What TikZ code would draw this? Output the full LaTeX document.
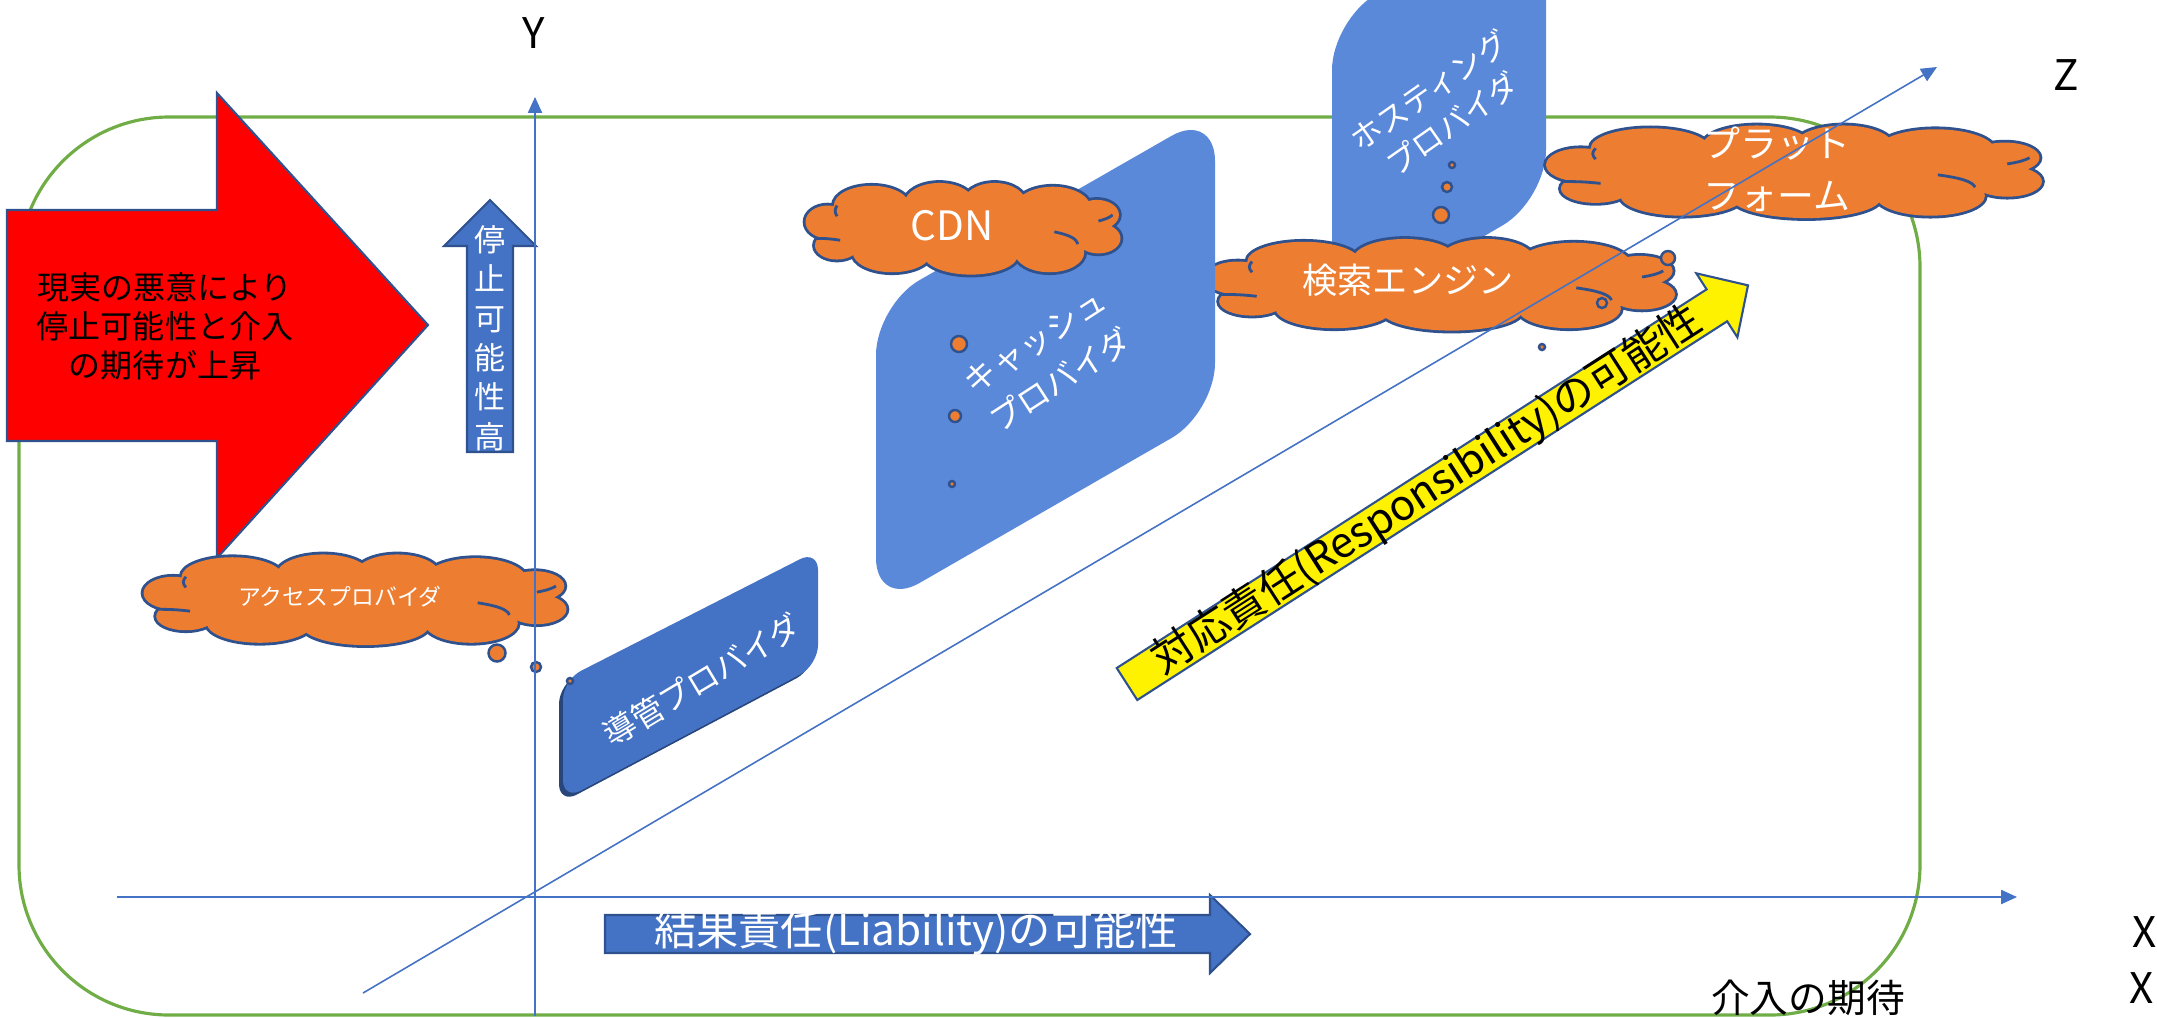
\documentclass[tikz,border=0pt]{standalone}
\usepackage{fontspec}
\setmainfont{Noto Sans CJK JP}
\usetikzlibrary{arrows.meta}
\definecolor{axisblue}{HTML}{4472C4}
\definecolor{edgeblue}{HTML}{2F528F}
\definecolor{panelblue}{HTML}{5B89DA}
\definecolor{cloudorange}{HTML}{ED7D31}
\definecolor{framegreen}{HTML}{70AD47}
% cloud outline as a union of ellipses, in a box from -1 to 1
\newcommand\cloudparts{(0,0) ellipse (0.78 and 0.72)
    (-0.58,-0.5) ellipse (0.24 and 0.42) (-0.15,-0.55) ellipse (0.22 and 0.43)
    (0.2,-0.55) ellipse (0.2 and 0.43) (0.57,-0.45) ellipse (0.24 and 0.45)
    (0.55,0.5) ellipse (0.22 and 0.42) (0.05,0.55) ellipse (0.3 and 0.42)
    (-0.45,0.5) ellipse (0.25 and 0.42)
    (-0.86,-0.15) ellipse (0.14 and 0.35) (-0.8,0.35) ellipse (0.14 and 0.3)
    (0.85,-0.3) ellipse (0.14 and 0.32) (0.86,0.2) ellipse (0.14 and 0.32)}
\tikzset{
    axis/.style={axisblue, line width=0.45pt, -{Triangle[length=4.5pt,width=4pt]}},
    puff/.pic={
        \path[draw=edgeblue, line width=1.6pt] \cloudparts;
        \path[fill=cloudorange] \cloudparts;
        \draw[edgeblue, line width=0.8pt] (-0.93,0.2) to[bend left=15] (-0.78,0.24);
        \draw[edgeblue, line width=0.8pt] (0.58,0.06) to[bend left=25] (0.73,0.32);
        \draw[edgeblue, line width=0.8pt] (0.86,-0.17) to[bend right=15] (0.95,-0.3);
        \draw[edgeblue, line width=0.8pt] (-0.8,-0.5) to[bend right=10] (-0.8,-0.27);
    },
    bubble/.style={draw=edgeblue, line width=0.7pt, fill=cloudorange},
    panel/.style={fill=panelblue, rounded corners=0.5cm},
    blockarrow/.style={draw=edgeblue, line width=0.6pt},
    whitetext/.style={text=white, align=center},
}
\begin{document}
\begin{tikzpicture}[x=0.01cm, y=-0.01cm]
    \useasboundingbox (0,0) rectangle (2157,1017);
    \draw[framegreen, line width=0.9pt, rounded corners=1.5cm] (19,117) rectangle (1920,1015);
    % red arrow
    \draw[blockarrow, fill=red] (7,210) -- (217,210) -- (217,93) -- (428,325) -- (217,558) -- (217,441) -- (7,441) -- cycle;
    \node[align=center, font=\fontsize{9.1}{11.1}\selectfont] (rise) at (165,326) {現実の悪意により\\停止可能性と介入\\の期待が上昇};
    % hosting
    \fill[panel] (1332,325) -- (1332,20) -- (1546,-105) -- (1546,200) -- cycle;
    \node[whitetext, rotate=35, font=\fontsize{8.8}{11.5}\selectfont] (hosting) at (1441,107) {ホスティング\\プロバイダ};
    \pic[xscale=248, yscale=47.5] (platform) at (1794,172) {puff};
    \node[whitetext, font=\fontsize{10.5}{14.8}\selectfont] (platformtext) at (1777,169) {プラット\\フォーム};
    \pic[xscale=235, yscale=47] (search) at (1440,285) {puff};
    \node[whitetext, font=\fontsize{10}{12}\selectfont] (searchtext) at (1408,280) {検索エンジン};
    % cache
    \fill[panel] (876,608) -- (876,305) -- (1215,111) -- (1215,413) -- cycle;
    \node[whitetext, rotate=33, font=\fontsize{9.2}{13.2}\selectfont] (cache) at (1048,361) {キャッシュ\\プロバイダ};
    \pic[xscale=157.5, yscale=47] (cdn) at (963,229) {puff};
    \node[whitetext, font=\fontsize{11.5}{13}\selectfont] (cdntext) at (952,226) {CDN};
    % conduit
    \fill[rounded corners=0.2cm, fill=edgeblue!85!black] (559,804) -- (559,684) -- (814,554) -- (814,669) -- cycle;
    \fill[rounded corners=0.2cm, fill=axisblue] (563,800) -- (563,680) -- (818,550) -- (818,665) -- cycle;
    \node[whitetext, rotate=31, font=\fontsize{9.1}{11}\selectfont] (conduit) at (702,680) {導管プロバイダ};
    \pic[xscale=211.5, yscale=46.5] (access) at (355,600) {puff};
    \node[whitetext, font=\fontsize{6.5}{8}\selectfont] (accesstext) at (340,597) {アクセスプロバイダ};
    % block arrows
    \draw[blockarrow, fill=axisblue] (467,452) -- (467,246) -- (444,246) -- (490,200) -- (536,246) -- (513,246) -- (513,452) -- cycle;
    \node[whitetext, font=\fontsize{8.8}{11.2}\selectfont] (halt) at (490,338) {停\\止\\可\\能\\性\\高};
    \draw[blockarrow, fill=axisblue] (605,915) -- (1210,915) -- (1210,895) -- (1250,934) -- (1210,973) -- (1210,953) -- (605,953) -- cycle;
    \node[text=white, font=\fontsize{12}{14}\selectfont] (liability) at (916,933) {結果責任(Liability)の可能性};
    \begin{scope}[shift={(1127,684)}, rotate=32.7]
        \draw[blockarrow, fill=yellow] (0,-19) -- (701,-19) -- (701,-38) -- (738,0) -- (701,38) -- (701,19) -- (0,19) -- cycle;
        \node[transform shape, font=\fontsize{12}{14}\selectfont] (responsibility) at (357,0) {対応責任(Responsibility)の可能性};
    \end{scope}
    \foreach \Point/\r in {(497,653)/8.5, (536,667)/5, (570,681)/3, (959,344)/8, (955,416)/6, (952,484)/3, (1452,165)/3, (1447,187)/5, (1441,215)/8, (1668,258)/7, (1602,303)/5, (1542,347)/3}{
        \draw[bubble] \Point circle (\r);
    }
    % axes
    \coordinate (xstart) at (117,897);
    \coordinate (xend) at (2017,897);
    \coordinate (ystart) at (535,1016);
    \coordinate (yend) at (535,97);
    \coordinate (zstart) at (363,993);
    \coordinate (zend) at (1937,67);
    \draw[axis] (xstart) -- (xend);
    \draw[axis] (ystart) -- (yend);
    \draw[axis] (zstart) -- (zend);
    \node[font=\fontsize{12}{14}\selectfont] (ylabel) at (534,33) {Y};
    \node[font=\fontsize{12}{14}\selectfont] (zlabel) at (2066,75) {Z};
    \node[font=\fontsize{12}{14}\selectfont] (xlabel) at (2145,932) {X};
    \node[font=\fontsize{12}{14}\selectfont] (xlabeltwo) at (2142,988) {X};
    \node[font=\fontsize{11}{13}\selectfont] (expect) at (1808,998) {介入の期待};
\end{tikzpicture}
\end{document}
